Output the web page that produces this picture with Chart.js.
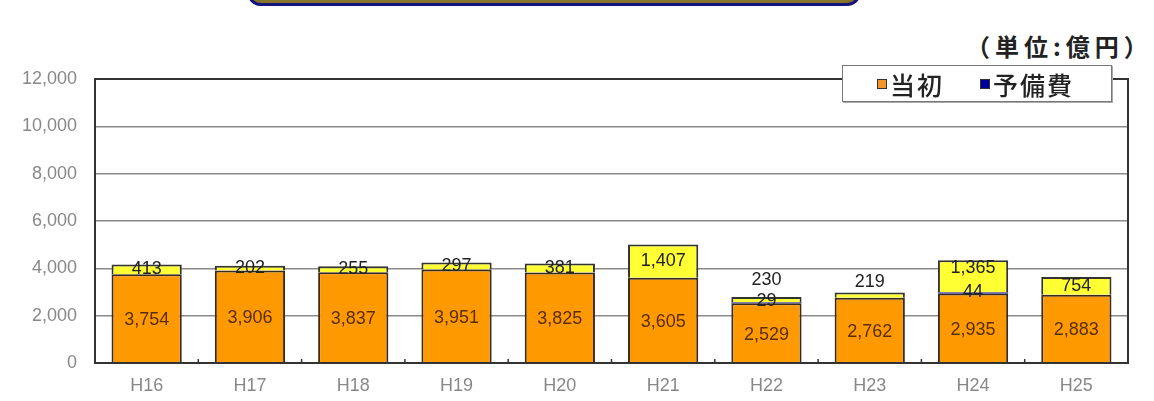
<!DOCTYPE html>
<html>
<head>
<meta charset="utf-8">
<script src="https://cdn.jsdelivr.net/npm/chart.js@4/dist/chart.umd.min.js"></script>
<style>
  body { margin: 0; background: #fff; }
  .wrap { position: relative; width: 1154px; height: 401px; overflow: hidden; }
  .banner {
    position: absolute; left: 247px; top: -40px; width: 608px; height: 40px;
    background: #86742a; border: 3px solid #14147a; border-radius: 14px;
  }
  .unit {
    position: absolute; left: 966px; top: 28px;
    font: bold 24px "Noto Sans CJK JP", sans-serif; color: #222; letter-spacing: 5px;
  }
  .chart-legend {
    position: absolute; left: 842px; top: 65px; width: 270px; height: 37px;
    background: #fff; border: 1px solid #777; box-shadow: 1px 1px 0 #aaa;
    display: flex; align-items: center; padding-left: 34px; box-sizing: border-box;
  }
  .legend-item {
    display: flex; align-items: center; margin-right: 36px;
    font: 500 25px "Noto Sans CJK JP", sans-serif; color: #222; letter-spacing: 2px;
  }
  .legend-item span {
    display: inline-block; width: 8px; height: 8px; border: 1px solid #333; margin-right: 3px;
  }
  canvas { position: absolute; left: 0; top: 0; }
</style>
</head>
<body>
<div class="wrap">
  <div class="banner"></div>
  <div class="unit">（単位:億円）</div>
  <canvas id="budgetChart" width="1154" height="401"></canvas>
  <div class="chart-legend"></div>
</div>
<script>
// data (億円)
const categories = ['H16', 'H17', 'H18', 'H19', 'H20', 'H21', 'H22', 'H23', 'H24', 'H25'];
const initialValues = [3754, 3906, 3837, 3951, 3825, 3605, 2529, 2762, 2935, 2883];
const reserveValues = [null, null, null, null, null, null, 29, null, 44, null];
const supplementValues = [413, 202, 255, 297, 381, 1407, 230, 219, 1365, 754];
const yTicks = [0, 2000, 4000, 6000, 8000, 10000, 12000];

function fmt(v) {
  return v.toLocaleString('en-US');
}

// labels inside / above each segment
const segLabels = {
  id: 'segLabels',
  afterDatasetsDraw(chart) {
    const ctx = chart.ctx;
    const base = chart.getDatasetMeta(0).data;
    const added = chart.getDatasetMeta(2).data;
    ctx.save();
    ctx.font = '18px "Liberation Sans", Arial, sans-serif';
    ctx.textAlign = 'center';
    ctx.textBaseline = 'middle';
    categories.forEach(function (c, i) {
      const b = base[i];
      ctx.fillStyle = '#5a2e00';
      ctx.fillText(fmt(initialValues[i]), b.x, (b.y + b.base) / 2 + 2);

      const a = added[i];
      const hasRes = reserveValues[i] != null;
      const segH = a.base - a.y;
      let y;
      if (segH < 8 && initialValues[i] < 3000) {
        y = a.y - (hasRes ? 17 : 10); // thin segment on short bar: put it above
      } else {
        y = (a.y + a.base) / 2 - (hasRes ? 8 : 0);
      }
      ctx.fillStyle = '#222';
      ctx.fillText(fmt(supplementValues[i]), a.x, y);
      if (hasRes) {
        ctx.fillText(fmt(reserveValues[i]), a.x, b.y - 2);
      }
    });
    ctx.restore();
  }
};

// frame round the plot + small inner ticks between categories
const frame = {
  id: 'frame',
  afterDraw(chart) {
    const ctx = chart.ctx;
    const area = chart.chartArea;
    const x = chart.scales.x;
    ctx.save();
    ctx.strokeStyle = '#333';
    ctx.lineWidth = 2;
    ctx.strokeRect(area.left, area.top, area.right - area.left, area.bottom - area.top);
    ctx.lineWidth = 1.5;
    for (let i = 1; i < categories.length; i++) {
      const px = (x.getPixelForValue(i - 1) + x.getPixelForValue(i)) / 2;
      ctx.beginPath();
      ctx.moveTo(px, area.bottom);
      ctx.lineTo(px, area.bottom - 4);
      ctx.stroke();
    }
    ctx.restore();
  }
};

const ctxEl = document.getElementById('budgetChart');
const budgetChart = new Chart(ctxEl, {
  type: 'bar',
  data: {
    labels: categories,
    datasets: [
      {
        label: '当初',
        data: initialValues,
        backgroundColor: '#ff9900',
        legendColor: '#f0962a',
        borderColor: '#3a2a1a',
        borderWidth: 2
      },
      {
        label: '予備費',
        data: reserveValues,
        backgroundColor: '#000099',
        legendColor: '#0000a0',
        borderWidth: 0
      },
      {
        label: '補正',
        data: supplementValues,
        backgroundColor: '#ffff33',
        borderColor: '#333',
        borderWidth: 2,
        hideInLegend: true
      }
    ]
  },
  options: {
    responsive: false,
    animation: false,
    layout: {
      padding: { top: 79, right: 26, left: 0, bottom: 0 }
    },
    plugins: {
      legend: { display: false },
      tooltip: { enabled: false }
    },
    datasets: {
      bar: { barPercentage: 0.68, categoryPercentage: 1 }
    },
    scales: {
      x: {
        stacked: true,
        grid: { display: false, drawTicks: false },
        border: { display: false },
        ticks: {
          color: '#888',
          padding: 12,
          font: { family: '"Liberation Sans", Arial, sans-serif', size: 18 }
        },
        afterFit: function (scale) { scale.height = 38; }
      },
      y: {
        stacked: true,
        min: 0,
        max: 12000,
        afterBuildTicks: function (scale) {
          scale.ticks = yTicks.map(function (v) { return { value: v }; });
        },
        grid: { color: '#8a8a8a', lineWidth: 1.5, drawTicks: false },
        border: { display: false },
        ticks: {
          color: '#888',
          padding: 18,
          font: { family: '"Liberation Sans", Arial, sans-serif', size: 18 },
          callback: function (v) { return fmt(v); }
        },
        afterFit: function (scale) { scale.width = 95; }
      }
    }
  },
  plugins: [segLabels, frame]
});

// html legend
const legendContainer = document.querySelector('.chart-legend');
budgetChart.data.datasets.forEach(function (ds) {
  if (ds.hideInLegend) return;
  const item = document.createElement('div');
  item.classList.add('legend-item');
  item.innerHTML = '<span style="background-color:' + ds.legendColor + '"></span>' + ds.label;
  legendContainer.appendChild(item);
});
</script>
</body>
</html>
